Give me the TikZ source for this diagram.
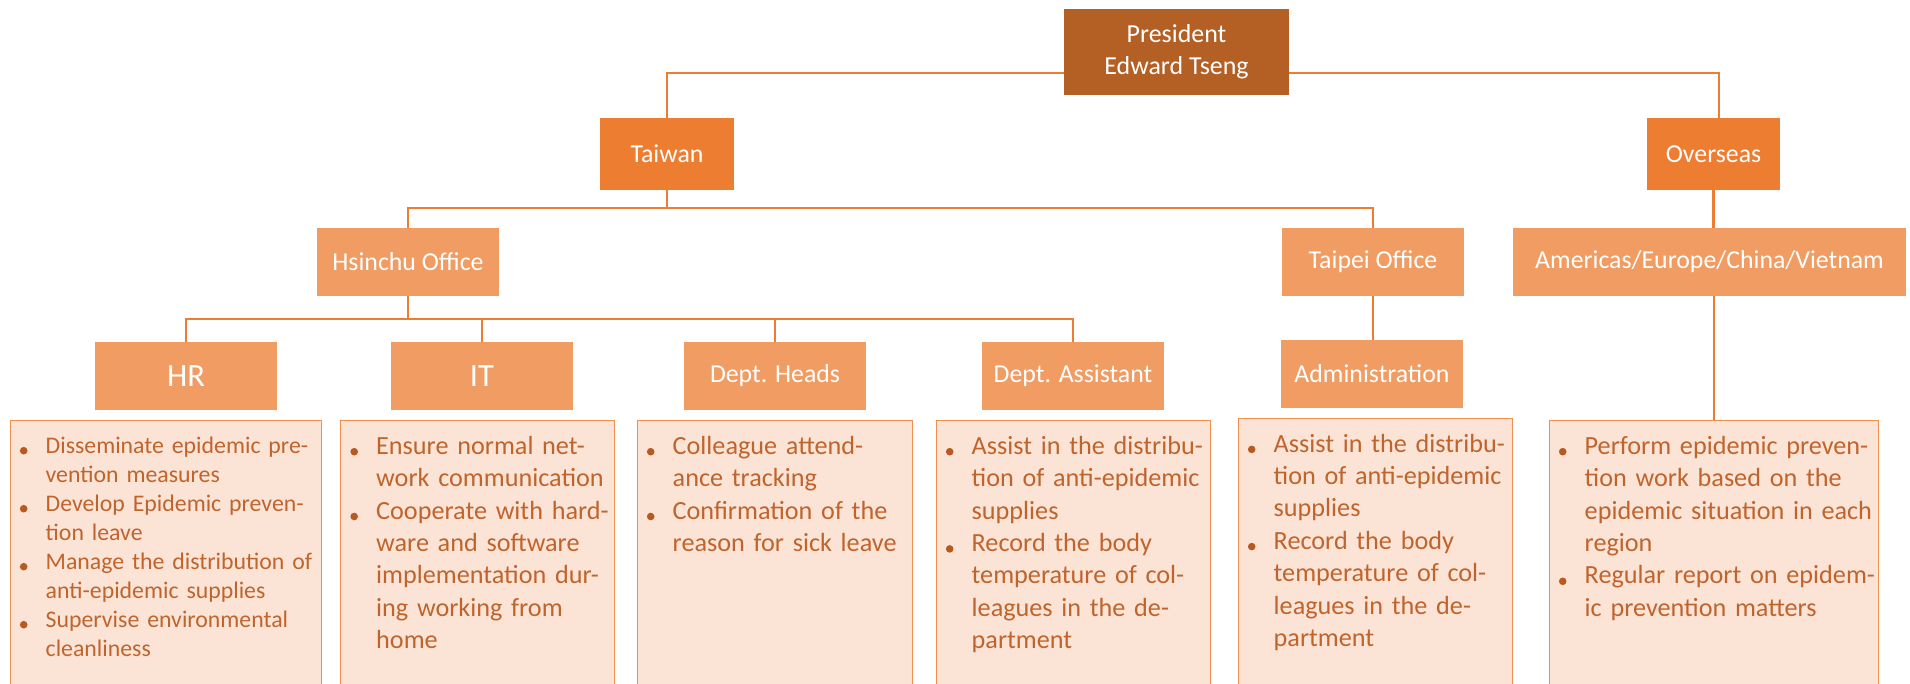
\documentclass[tikz,border=0pt]{standalone}
\usepackage{fontspec}
\setmainfont{Carlito}
\definecolor{presc}{RGB}{180,95,35}
\definecolor{darko}{RGB}{237,125,49}
\definecolor{medo}{RGB}{240,156,98}
\definecolor{palef}{RGB}{251,228,214}
\definecolor{bordo}{RGB}{240,144,79}
\definecolor{txtc}{RGB}{192,100,45}
\definecolor{bulc}{RGB}{184,90,32}
\newcommand\bul{\leavevmode\llap{\tikz[baseline=0pt]\fill[bulc] (0pt,2.6pt) circle[radius=3.8pt];\hspace{18.2pt}}}
\begin{document}
\begin{tikzpicture}[x=1pt,y=-1pt,
  lbl/.style={rectangle, inner sep=0pt, text=white, font=\fontsize{25.8}{31}\selectfont, minimum height=68pt, minimum width=182pt},
  conn/.style={draw=darko, line width=2.4pt},
  txtbox/.style={rectangle, anchor=north west, inner sep=0pt, fill=palef, draw=bordo, line width=1.3pt},
  bigt/.style={anchor=base west, inner sep=0pt, text width=420pt, align=left, text=txtc, font=\fontsize{26.2}{32.4}\selectfont},
  smallt/.style={anchor=base west, inner sep=0pt, text width=420pt, align=left, text=txtc, font=\fontsize{23.8}{29}\selectfont}]
\useasboundingbox (0,0) rectangle (1910,683);
\fill[white] (0,0) rectangle (1910,683);

% boxes
\node[lbl, fill=presc, minimum width=225pt, minimum height=86pt, align=center, font=\fontsize{25.9}{31.6}\selectfont] (pres) at (1176.5,52) {President\\Edward Tseng};
\node[lbl, fill=darko, minimum width=134pt, minimum height=72pt] (taiwan) at (667,154) {Taiwan};
\node[lbl, fill=darko, minimum width=133pt, minimum height=72pt] (over) at (1713.5,154) {Overseas};
\node[lbl, fill=medo] (hsinchu) at (408,262) {Hsinchu Office};
\node[lbl, fill=medo] (taipei) at (1373,262) {Taipei Office};
\node[lbl, fill=medo, minimum width=393pt] (amer) at (1709.5,262) {Americas/Europe/China/Vietnam};
\node[lbl, fill=medo, font=\fontsize{32.5}{38}\selectfont] (hr) at (186,376) {HR};
\node[lbl, fill=medo, font=\fontsize{32.5}{38}\selectfont] (it) at (482,376) {IT};
\node[lbl, fill=medo] (dh) at (775,376) {Dept. Heads};
\node[lbl, fill=medo] (da) at (1073,376) {Dept. Assistant};
\node[lbl, fill=medo] (admin) at (1372,374) {Administration};

% text boxes
\node[txtbox, minimum width=311pt, minimum height=275pt] (hrt) at (10,420) {};
\node[txtbox, minimum width=274pt, minimum height=275pt] (itt) at (340,420) {};
\node[txtbox, minimum width=275pt, minimum height=275pt] (dht) at (637,420) {};
\node[txtbox, minimum width=274pt, minimum height=275pt] (dat) at (936,420) {};
\node[txtbox, minimum width=274pt, minimum height=277pt] (admt) at (1238,418) {};
\node[txtbox, minimum width=329pt, minimum height=275pt] (ovt) at (1549,420) {};

% texts
\node[smallt] (hrtx) at (45.5,453.3) {\bul Disseminate epidemic pre-\\
vention measures\\
\bul Develop Epidemic preven-\\
tion leave\\
\bul Manage the distribution of\\
anti-epidemic supplies\\
\bul Supervise environmental\\
cleanliness};
\node[bigt] (ittx) at (376,454.3) {\bul Ensure normal net-\\
work communication\\
\bul Cooperate with hard-\\
ware and software\\
implementation dur-\\
ing working from\\
home};
\node[bigt] (dhtx) at (672.5,454.3) {\bul Colleague attend-\\
ance tracking\\
\bul Confirmation of the\\
reason for sick leave};
\node[bigt] (datx) at (971.5,454.3) {\bul Assist in the distribu-\\
tion of anti-epidemic\\
supplies\\
\bul Record the body\\
temperature of col-\\
leagues in the de-\\
partment};
\node[bigt] (admtx) at (1273.5,452) {\bul Assist in the distribu-\\
tion of anti-epidemic\\
supplies\\
\bul Record the body\\
temperature of col-\\
leagues in the de-\\
partment};
\node[bigt] (ovtx) at (1584.5,454.3) {\bul Perform epidemic preven-\\
tion work based on the\\
epidemic situation in each\\
region\\
\bul Regular report on epidem-\\
ic prevention matters};

% connectors
\draw[conn] (pres.west |- 0,73) -| (taiwan.north);
\draw[conn] (pres.east |- 0,73) -| ([xshift=5.5pt]over.north);
\draw[conn] (taiwan.south) -- (taiwan.south |- 0,208);
\draw[conn] (hsinchu.north) -- (hsinchu.north |- 0,208) -- (taipei.north |- 0,208) -- (taipei.north);
\draw[conn] (over.south) -- (over.south |- amer.north);
\draw[conn] (hsinchu.south) -- (hsinchu.south |- 0,319);
\draw[conn] (hr.north) -- (hr.north |- 0,319) -- (da.north |- 0,319) -- (da.north);
\draw[conn] (it.north) -- (it.north |- 0,319);
\draw[conn] (dh.north) -- (dh.north |- 0,319);
\draw[conn] (taipei.south) -- (taipei.south |- admin.north);
\draw[conn] (ovt.north |- amer.south) -- (ovt.north);
\end{tikzpicture}
\end{document}
